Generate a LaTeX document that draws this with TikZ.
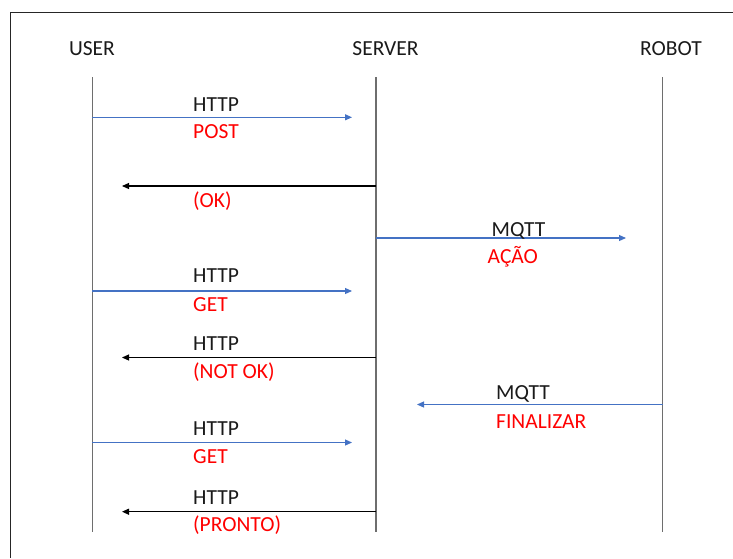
\documentclass[tikz,border=0pt]{standalone}
\usepackage{fontspec}
\setmainfont{Carlito}
\usetikzlibrary{arrows.meta}
\definecolor{msgblue}{HTML}{4472C4}
\definecolor{lifegray}{HTML}{6E6E6E}
\definecolor{txtred}{HTML}{FF0000}
\definecolor{txtdark}{HTML}{1A1A1A}
\begin{document}
\begin{tikzpicture}[x=1pt,y=-1pt,
  actor/.style={font=\fontsize{21.5}{24}\selectfont, text=txtdark, inner sep=0pt, anchor=base},
  proto/.style={font=\fontsize{21.5}{24}\selectfont, text=txtdark, inner sep=0pt, anchor=base west},
  verb/.style={font=\fontsize{21.5}{24}\selectfont, text=txtred, inner sep=0pt, anchor=base west},
  lifeline/.style={draw=lifegray, line width=1.4pt},
  request/.style={draw=msgblue, line width=1.1pt, -{Triangle[length=7pt,width=6pt]}},
  reply/.style={draw=black, line width=1.1pt, -{Triangle[length=7pt,width=6pt]}},
  frame/.style={draw=black!85, line width=1.3pt}]
\useasboundingbox (0,0) rectangle (733,558);

% frame edges
\coordinate (fbl) at (10.5,558);
\coordinate (ftl) at (10.5,12.5);
\coordinate (ftr) at (733,12.5);
\draw[frame] (fbl) -- (ftl) -- (ftr);

% actors
\node[actor] (user)   at (92,55)  {USER};
\node[actor] (server) at (385.5,55) {SERVER};
\node[actor] (robot)  at (671,55) {ROBOT};

% lifelines
\coordinate (uTop) at (92.3,77);   \coordinate (uBot) at (92.3,532);
\coordinate (sTop) at (376,77);    \coordinate (sBot) at (376,532);
\coordinate (rTop) at (662.5,77);  \coordinate (rBot) at (662.5,532);
\draw[lifeline] (uTop) -- (uBot);
\draw[lifeline] (sTop) -- (sBot);
\draw[lifeline] (rTop) -- (rBot);

% 1: user -> server, HTTP POST
\coordinate (m1a) at (92.3,117.3); \coordinate (m1b) at (352,117.3);
\draw[request] (m1a) -- (m1b);
\node[proto] (m1p) at (193,111) {HTTP};
\node[verb]  (m1v) at (193,138) {POST};

% 2: server -> user, (OK)
\coordinate (m2a) at (376,186); \coordinate (m2b) at (122,186);
\draw[reply] (m2a) -- (m2b);
\node[verb] (m2v) at (193,207) {(OK)};

% 3: server -> robot, MQTT
\coordinate (m3a) at (376,238); \coordinate (m3b) at (626,238);
\draw[request] (m3a) -- (m3b);
\node[proto] (m3p) at (491.5,236) {MQTT};
\node[verb]  (m3v) at (487.5,263) {AÇÃO};

% 4: user -> server, HTTP GET
\coordinate (m4a) at (92.3,291); \coordinate (m4b) at (352,291);
\draw[request] (m4a) -- (m4b);
\node[proto] (m4p) at (193,282) {HTTP};
\node[verb]  (m4v) at (193,311.5) {GET};

% 5: server -> user, (NOT OK)
\coordinate (m5a) at (376,357.5); \coordinate (m5b) at (122,357.5);
\draw[reply] (m5a) -- (m5b);
\node[proto] (m5p) at (193,350.5) {HTTP};
\node[verb]  (m5v) at (193,378) {(NOT OK)};

% 6: robot -> server, MQTT FINALIZAR
\coordinate (m6a) at (662.5,404.5); \coordinate (m6b) at (417,404.5);
\draw[request] (m6a) -- (m6b);
\node[proto] (m6p) at (496,399) {MQTT};
\node[verb]  (m6v) at (496,428) {FINALIZAR};

% 7: user -> server, HTTP GET
\coordinate (m7a) at (92.3,442.5); \coordinate (m7b) at (352,442.5);
\draw[request] (m7a) -- (m7b);
\node[proto] (m7p) at (193,435) {HTTP};
\node[verb]  (m7v) at (193,463) {GET};

% 8: server -> user, (PRONTO)
\coordinate (m8a) at (376,511.7); \coordinate (m8b) at (122,511.7);
\draw[reply] (m8a) -- (m8b);
\node[proto] (m8p) at (193,504) {HTTP};
\node[verb]  (m8v) at (193,531) {(PRONTO)};
\end{tikzpicture}
\end{document}
